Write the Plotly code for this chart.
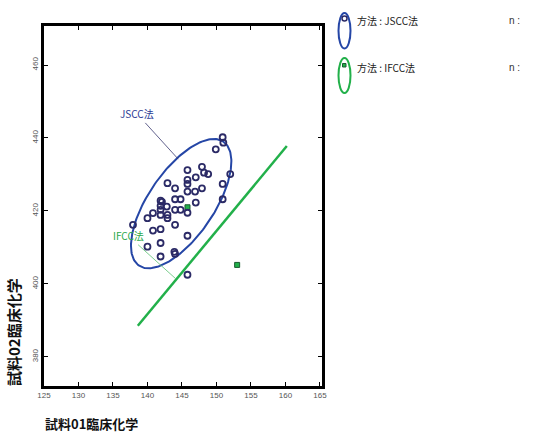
import numpy as np
import plotly.graph_objects as go

# Sample results: 試料01 (x) vs 試料02 (y), JSCC method
jscc_x = [150.9, 151.0, 149.9, 152.0, 150.9, 150.9, 145.8, 147.9, 147.0, 148.2,
          148.8, 145.8, 145.8, 147.9, 146.9, 142.9, 144.0, 145.8, 144.0, 144.8,
          147.0, 141.9, 141.9, 141.9, 142.8, 144.0, 144.8, 145.8, 142.9, 142.9,
          140.0, 140.8, 141.9, 137.9, 144.0, 140.8, 141.9, 140.0, 141.9, 145.8,
          141.9, 144.0, 143.9, 145.8, 142.1]
jscc_y = [440.2, 438.7, 436.9, 430.1, 427.4, 423.2, 431.2, 432.1, 429.2, 430.5,
          430.1, 428.5, 427.4, 426.2, 425.3, 427.6, 426.2, 425.3, 423.2, 423.2,
          422.3, 422.8, 421.4, 420.3, 421.2, 420.3, 420.3, 419.5, 418.9, 418.0,
          418.0, 419.4, 418.9, 416.2, 416.2, 414.6, 415.0, 410.2, 411.2, 413.2,
          407.5, 408.2, 408.8, 402.5, 422.5]

# IFCC method
ifcc_x = [153.0, 145.8]
ifcc_y = [405.2, 421.0]
ifcc_line_x = [138.6, 160.2]
ifcc_line_y = [388.5, 437.8]

x_ticks = [125, 130, 135, 140, 145, 150, 155, 160, 165]
y_ticks = [380, 400, 420, 440, 460]

BLUE = "#2546a6"
NAVY = "#2b2a66"
GREEN = "#22b04a"


def confidence_ellipse(xs, ys, level=0.90, n=200):
    k = np.sqrt(-2 * np.log(1 - level))
    pts = np.column_stack([xs, ys])
    mu = pts.mean(axis=0)
    cov = np.cov(pts, rowvar=False)
    vals, vecs = np.linalg.eigh(cov)
    t = np.linspace(0, 2 * np.pi, n)
    circle = np.column_stack([np.cos(t), np.sin(t)])
    ell = circle * (k * np.sqrt(vals)) @ vecs.T + mu
    return ell[:, 0], ell[:, 1]


ex, ey = confidence_ellipse(jscc_x, jscc_y)

fig = go.Figure()
fig.add_trace(go.Scatter(x=ifcc_line_x, y=ifcc_line_y, mode="lines",
                         line=dict(color=GREEN, width=2.5), hoverinfo="skip"))
fig.add_trace(go.Scatter(x=ex, y=ey, mode="lines",
                         line=dict(color=BLUE, width=2), hoverinfo="skip"))
fig.add_trace(go.Scatter(x=ifcc_x, y=ifcc_y, mode="markers",
                         marker=dict(symbol="square", size=5, color=GREEN,
                                     line=dict(color="#1a5a30", width=1))))
fig.add_trace(go.Scatter(x=jscc_x, y=jscc_y, mode="markers",
                         marker=dict(symbol="circle-open", size=6, color=NAVY,
                                     line=dict(color=NAVY, width=1.8))))

fig.add_annotation(x=144.46, y=434.2, ax=138.5, ay=446.6, xref="x", yref="y",
                   axref="x", ayref="y", text="JSCC法", showarrow=True,
                   arrowhead=0, arrowwidth=0.8, arrowcolor="#3a3a70",
                   font=dict(family="Noto Sans CJK JP", size=10, color="#2a3a94"))
fig.add_annotation(x=144.1, y=401.4, ax=137.2, ay=413.2, xref="x", yref="y",
                   axref="x", ayref="y", text="IFCC法", showarrow=True,
                   arrowhead=0, arrowwidth=0.8, arrowcolor="#58c070",
                   font=dict(family="Noto Sans CJK JP", size=10, color="#2aa84a"))

W, H = 544, 433
L, R, T, B = 44, 222, 26, 47
PW, PH = W - L - R, H - T - B


def px(xp):
    # page pixel -> paper fraction of the plot area
    return (xp - L) / PW


def py(yp):
    return (H - B - yp) / PH


# legend swatches
fig.add_shape(type="circle", xref="paper", yref="paper",
              x0=px(338.5), x1=px(350.5), y0=py(48.5), y1=py(13),
              line=dict(color=BLUE, width=2))
fig.add_shape(type="circle", xref="paper", yref="paper",
              x0=px(338.5), x1=px(350.5), y0=py(93), y1=py(58),
              line=dict(color=GREEN, width=2))
fig.add_shape(type="circle", xref="paper", yref="paper",
              x0=px(342), x1=px(347), y0=py(21), y1=py(16),
              line=dict(color=NAVY, width=1.5))
fig.add_shape(type="rect", xref="paper", yref="paper",
              x0=px(342.5), x1=px(346), y0=py(67), y1=py(63.5),
              fillcolor=GREEN, line=dict(color="#1a5a30", width=1))

legend_texts = [("方法 : JSCC法", 20), ("方法 : IFCC法", 67)]
for txt, yp in legend_texts:
    fig.add_annotation(x=px(355), y=py(yp), xref="paper", yref="paper",
                       xanchor="left", yanchor="middle", showarrow=False,
                       text=txt, font=dict(family="Noto Sans CJK JP", size=10,
                                           color="#222"))
    fig.add_annotation(x=px(507), y=py(yp), xref="paper", yref="paper",
                       xanchor="left", yanchor="middle", showarrow=False,
                       text="n :", font=dict(family="Liberation Sans", size=10,
                                            color="#333"))

fig.add_annotation(x=px(13), y=py(388), xref="paper", yref="paper",
                   xanchor="center", yanchor="bottom", showarrow=False,
                   textangle=-90, text="<b>試料02臨床化学</b>",
                   font=dict(family="Noto Sans CJK JP", size=15, color="#111"))
fig.add_annotation(x=px(43), y=py(423), xref="paper", yref="paper",
                   xanchor="left", yanchor="middle", showarrow=False,
                   text="<b>試料01臨床化学</b>",
                   font=dict(family="Noto Sans CJK JP", size=13, color="#111"))

axis_common = dict(showline=True, linecolor="black", linewidth=2.5, mirror="ticks",
                   ticks="inside", ticklen=4, tickcolor="black", tickwidth=1,
                   showgrid=False, zeroline=False,
                   tickfont=dict(family="Liberation Sans", size=8, color="#555"))

fig.update_xaxes(range=[125, 165.3], tickvals=x_ticks, **axis_common)
fig.update_yaxes(range=[372, 470.7], tickvals=y_ticks, tickangle=-90, **axis_common)

fig.update_layout(width=W, height=H, margin=dict(l=L, r=R, t=T, b=B),
                  plot_bgcolor="white", paper_bgcolor="white", showlegend=False)

fig.write_html("out.html")
